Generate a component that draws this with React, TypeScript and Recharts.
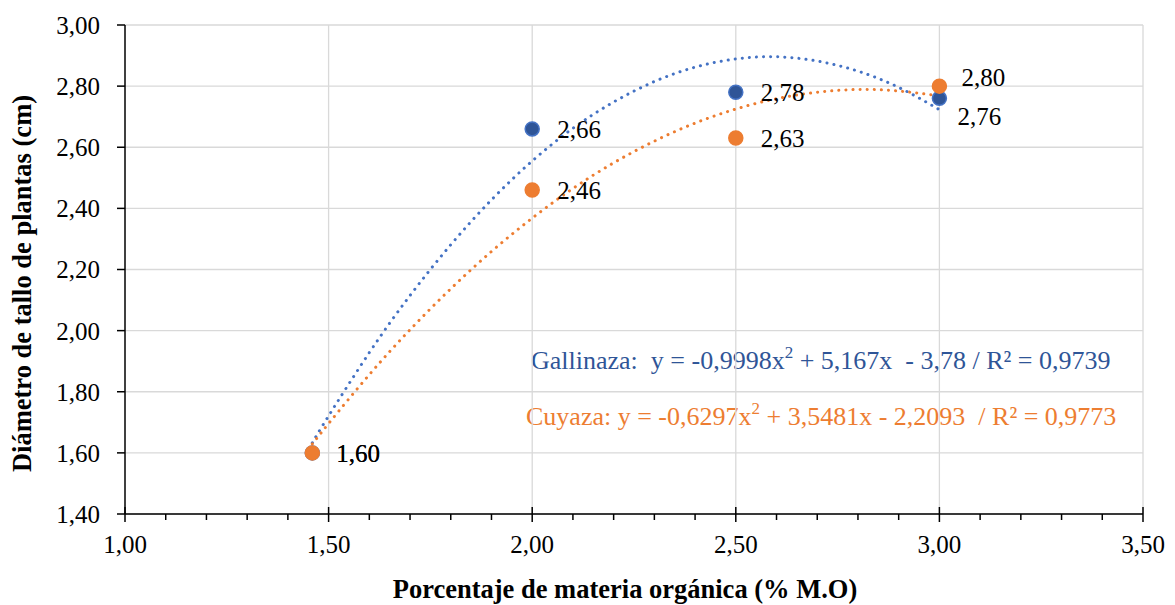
import React from 'react';
import {
  ComposedChart,
  Scatter,
  Line,
  XAxis,
  YAxis,
  CartesianGrid,
  ReferenceLine,
} from 'recharts';

// Observed data
const dosis = [1.46, 2.0, 2.5, 3.0];
const gallinaza = [1.6, 2.66, 2.78, 2.76];
const cuyaza = [1.6, 2.46, 2.63, 2.8];

// Trendlines
const trendX = [1.46, 1.5, 1.6, 1.7, 1.8, 1.9, 2.0, 2.1, 2.2, 2.3, 2.4, 2.5, 2.6, 2.7, 2.8, 2.9, 3.0];
const trendGallinaza = [1.633, 1.721, 1.928, 2.115, 2.281, 2.428, 2.555, 2.662, 2.748, 2.815, 2.862, 2.889, 2.896, 2.882, 2.849, 2.796, 2.723];
const trendCuyaza = [1.629, 1.696, 1.856, 2.003, 2.137, 2.259, 2.368, 2.465, 2.549, 2.62, 2.679, 2.725, 2.759, 2.78, 2.789, 2.784, 2.768];

// Axis ticks
const xTicks = [1.0, 1.1, 1.2, 1.3, 1.4, 1.5, 1.6, 1.7, 1.8, 1.9, 2.0, 2.1, 2.2, 2.3, 2.4, 2.5, 2.6, 2.7, 2.8, 2.9, 3.0, 3.1, 3.2, 3.3, 3.4, 3.5];
const xMajorTicks = [1.0, 1.5, 2.0, 2.5, 3.0, 3.5];
const yTicks = [1.4, 1.6, 1.8, 2.0, 2.2, 2.4, 2.6, 2.8, 3.0];

const xTitle = 'Porcentaje de materia orgánica (% M.O)';
const yTitle = 'Diámetro de tallo de plantas (cm)';

// Label offsets (dx to text start, dy of text centre)
const labelOffsetsG = [[24, 0], [25, 0], [25, 0], [18, 18]];
const labelOffsetsC = [[24, 0], [25, 0], [25, 0], [22, -9]];

const FONT = "'Liberation Serif', 'Times New Roman', serif";
const BLUE_DARK = '#2F5597';
const BLUE = '#4472C4';
const ORANGE = '#ED7D31';

const fmt = (v: number) => v.toFixed(2).replace('.', ',');

const gData = dosis.map((x, i) => ({ x, y: gallinaza[i], i }));
const cData = dosis.map((x, i) => ({ x, y: cuyaza[i], i }));
const gTrend = trendX.map((x, i) => ({ x, y: trendGallinaza[i] }));
const cTrend = trendX.map((x, i) => ({ x, y: trendCuyaza[i] }));

const makeShape = (fill: string, stroke: string, offsets: number[][]) => (props: any) => {
  const { cx, cy, payload } = props;
  if (cx == null || cy == null) return null;
  const [dx, dy] = offsets[payload.i] || [24, 0];
  return (
    <g>
      <circle cx={cx} cy={cy} r={7} fill={fill} stroke={stroke} strokeWidth={1.5} />
      <text x={cx + dx} y={cy + dy + 9} fontSize={25} fontFamily={FONT} fill="#000">
        {fmt(payload.y)}
      </text>
    </g>
  );
};

const XTick = (props: any) => {
  const { x, y, payload } = props;
  const v = payload.value as number;
  const major = xMajorTicks.some((m) => Math.abs(m - v) < 1e-6);
  return (
    <g>
      {major ? (
        <line x1={x} x2={x} y1={y - 7} y2={y + 8} stroke="#000" strokeWidth={1.5} />
      ) : (
        <line x1={x} x2={x} y1={y} y2={y + 6} stroke="#000" strokeWidth={1.5} />
      )}
      {major && (
        <text x={x} y={y + 39} textAnchor="middle" fontSize={25} fontFamily={FONT} fill="#000">
          {fmt(v)}
        </text>
      )}
    </g>
  );
};

export default function App() {
  return (
    <div style={{ position: 'absolute', left: 0, top: 0, width: 1175, height: 605, background: '#fff' }}>
      <ComposedChart
        width={1175}
        height={605}
        margin={{ top: 25, right: 32, bottom: 0, left: 0 }}
        style={{ fontFamily: FONT }}
      >
        <CartesianGrid vertical={false} stroke="#D9D9D9" strokeWidth={1.3} />
        {xMajorTicks.slice(1).map((m) => (
          <ReferenceLine key={m} x={m} stroke="#D9D9D9" strokeWidth={1.3} />
        ))}
        <XAxis
          type="number"
          dataKey="x"
          domain={[1, 3.5]}
          ticks={xTicks}
          interval={0}
          allowDataOverflow
          height={91}
          tickSize={0}
          tickMargin={0}
          tickLine={false}
          axisLine={{ stroke: '#000', strokeWidth: 1.5 }}
          tick={<XTick />}
        />
        <YAxis
          type="number"
          dataKey="y"
          domain={[1.4, 3.0]}
          ticks={yTicks}
          interval={0}
          allowDataOverflow
          width={125}
          tickSize={8}
          tickMargin={17}
          tickFormatter={fmt}
          tick={{ fontSize: 25, fill: '#000', fontFamily: FONT }}
          tickLine={{ stroke: '#000', strokeWidth: 1.5 }}
          axisLine={{ stroke: '#000', strokeWidth: 1.5 }}
        />
        <Line
          data={gTrend}
          dataKey="y"
          type="natural"
          stroke={BLUE}
          strokeWidth={3}
          strokeDasharray="0.1 7"
          strokeLinecap="round"
          dot={false}
          activeDot={false}
          isAnimationActive={false}
          legendType="none"
        />
        <Line
          data={cTrend}
          dataKey="y"
          type="natural"
          stroke={ORANGE}
          strokeWidth={3}
          strokeDasharray="0.1 7"
          strokeLinecap="round"
          dot={false}
          activeDot={false}
          isAnimationActive={false}
          legendType="none"
        />
        <Scatter
          data={gData}
          dataKey="y"
          isAnimationActive={false}
          shape={makeShape(BLUE_DARK, BLUE, labelOffsetsG)}
        />
        <Scatter
          data={cData}
          dataKey="y"
          isAnimationActive={false}
          shape={makeShape(ORANGE, ORANGE, labelOffsetsC)}
        />
        <text x={625} y={598} textAnchor="middle" fontSize={26.5} fontWeight="bold" fontFamily={FONT} fill="#000">
          {xTitle}
        </text>
        <text
          transform="translate(30.5,283.5) rotate(-90)"
          x={0}
          y={0}
          textAnchor="middle"
          fontSize={26.5}
          fontWeight="bold"
          fontFamily={FONT}
          fill="#000"
        >
          {yTitle}
        </text>
        <text x={531} y={369} fontSize={26} fontFamily={FONT} fill={BLUE_DARK} style={{ whiteSpace: 'pre' }}>
          <tspan>{'Gallinaza:  y = -0,9998x'}</tspan>
          <tspan fontSize={17} dy={-11}>2</tspan>
          <tspan dy={11}>{' + 5,167x  - 3,78 / R² = 0,9739'}</tspan>
        </text>
        <text x={526} y={425} fontSize={26} fontFamily={FONT} fill={ORANGE} style={{ whiteSpace: 'pre' }}>
          <tspan>{'Cuyaza: y = -0,6297x'}</tspan>
          <tspan fontSize={17} dy={-11}>2</tspan>
          <tspan dy={11}>{' + 3,5481x - 2,2093  / R² = 0,9773'}</tspan>
        </text>
      </ComposedChart>
    </div>
  );
}
